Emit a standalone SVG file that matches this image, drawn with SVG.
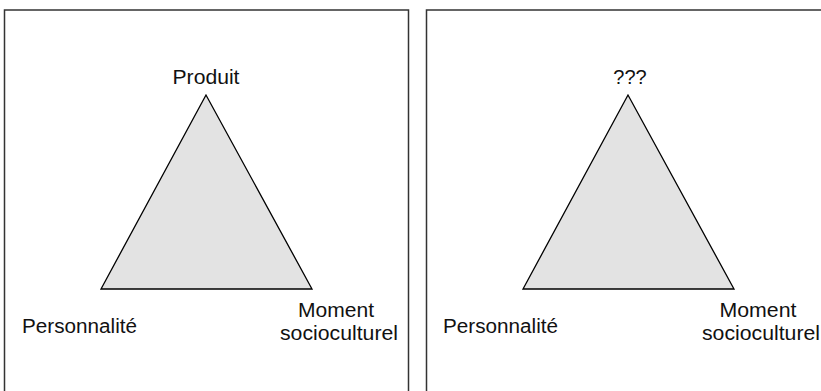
<svg xmlns="http://www.w3.org/2000/svg" width="821" height="391" viewBox="0 0 821 391">
<style>
.frame{fill:none;stroke:#333;stroke-width:1.5}
.tri{fill:#e3e3e3;stroke:#000;stroke-width:1.3;stroke-linejoin:miter}
text{font-family:"Liberation Sans",Arial,sans-serif;font-size:20px;fill:#111}
</style>
<rect width="821" height="391" fill="#fff"/>
<g id="panel-left">
<rect class="frame" x="4.5" y="10" width="404" height="400"/>
<polygon class="tri" points="206,95 101,289 312,289"/>
<text x="206" y="84" text-anchor="middle" textLength="67" lengthAdjust="spacingAndGlyphs">Produit</text>
<text x="22" y="333" textLength="115" lengthAdjust="spacingAndGlyphs">Personnalité</text>
<text x="336" y="317" text-anchor="middle" textLength="76" lengthAdjust="spacingAndGlyphs">Moment</text>
<text x="280" y="340" textLength="118" lengthAdjust="spacingAndGlyphs">socioculturel</text>
</g>
<g id="panel-right">
<rect class="frame" x="426.5" y="10" width="404" height="400"/>
<polygon class="tri" points="628,95 523,289 734,289"/>
<text x="630" y="84" text-anchor="middle">???</text>
<text x="443" y="333" textLength="115" lengthAdjust="spacingAndGlyphs">Personnalité</text>
<text x="758" y="317" text-anchor="middle" textLength="77" lengthAdjust="spacingAndGlyphs">Moment</text>
<text x="702" y="340" textLength="118" lengthAdjust="spacingAndGlyphs">socioculturel</text>
</g>
<g id="connectors"></g>
</svg>
